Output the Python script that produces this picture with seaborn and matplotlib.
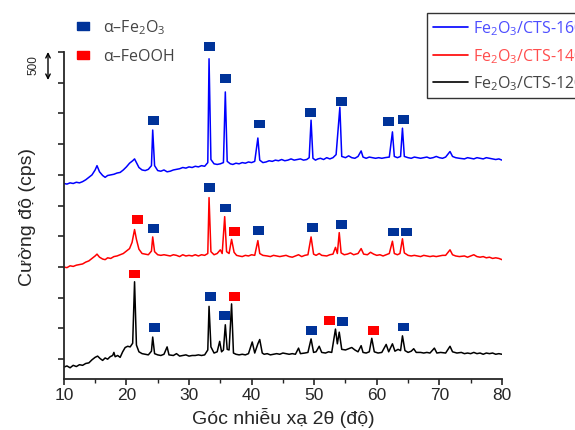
import numpy as np
import pandas as pd
import matplotlib
matplotlib.use("Agg")
import matplotlib.pyplot as plt
from matplotlib.lines import Line2D
from matplotlib.ticker import MultipleLocator, NullFormatter
import seaborn as sns

tt_120 = [10.0, 10.5, 11.0, 11.5, 12.0, 12.5, 13.0, 13.5, 14.0, 14.5, 15.0, 15.4, 15.8, 16.2, 16.6, 17.0,
          17.4, 17.8, 18.0, 18.2, 18.6, 19.0, 19.4, 19.8, 20.2, 20.6, 21.0, 21.3, 21.6, 22.0, 22.5, 23.0,
          23.5, 24.0, 24.2, 24.5, 25.0, 25.5, 26.0, 26.5, 26.8, 27.5, 28.0, 28.5, 29.0, 29.5, 30.0, 30.5,
          31.0, 31.5, 32.0, 32.5, 33.0, 33.2, 33.5, 34.0, 34.5, 34.9, 35.2, 35.5, 35.8, 36.1, 36.4, 36.8,
          37.1, 37.5, 38.0, 38.5, 39.0, 39.5, 40.1, 40.5, 41.0, 41.3, 41.7, 42.0, 42.5, 43.0, 43.5, 44.0,
          44.5, 45.0, 45.5, 46.0, 46.5, 47.0, 47.5, 47.8, 48.5, 49.0, 49.5, 49.9, 50.3, 50.8, 51.2, 51.8,
          52.3, 52.8, 53.4, 53.7, 54.0, 54.4, 55.0, 55.5, 56.0, 56.5, 57.0, 57.5, 57.8, 58.3, 58.8, 59.2,
          59.6, 60.2, 60.8, 61.5, 61.9, 62.5, 62.9, 63.4, 63.8, 64.1, 64.5, 65.0, 65.5, 65.9, 66.3, 67.0,
          67.5, 68.0, 68.5, 69.2, 69.6, 70.2, 71.0, 71.7, 72.1, 72.8, 73.5, 74.0, 74.5, 75.0, 75.5, 76.0,
          76.5, 77.0, 77.5, 78.0, 78.5, 79.0, 79.5, 80.0]
cps_120 = [-130, -110, -140, -100, -120, -90, -100, -70, -60, -10, 30, 50, 10, -20, 20, 0,
           40, 60, 110, 40, 60, 30, 120, 190, 210, 200, 260, 1260, 230, 120, 90, 80,
           70, 130, 360, 90, 70, 60, 80, 200, 70, 60, 90, 50, 60, 70, 50, 60,
           60, 70, 60, 70, 150, 860, 200, 100, 120, 290, 120, 150, 560, 160, 150, 900,
           100, 80, 70, 80, 70, 90, 280, 100, 250, 320, 100, 80, 90, 70, 80, 90,
           80, 100, 90, 80, 90, 80, 180, 90, 100, 110, 330, 110, 120, 210, 110, 100,
           120, 110, 490, 250, 440, 160, 150, 170, 190, 150, 120, 220, 110, 100, 120, 340,
           120, 100, 110, 240, 120, 250, 130, 160, 140, 380, 140, 110, 130, 170, 110, 110,
           100, 110, 100, 180, 100, 110, 100, 210, 120, 100, 110, 90, 100, 90, 110, 90,
           100, 80, 100, 90, 100, 80, 90, 80]

tt_140 = [10.0, 10.5, 11.0, 11.5, 12.0, 12.5, 13.0, 13.5, 14.0, 14.5, 15.0, 15.3, 15.7, 16.2, 16.6, 17.0,
          17.5, 18.0, 18.5, 19.0, 19.5, 20.0, 20.5, 20.9, 21.3, 21.6, 22.0, 22.5, 23.0, 23.5, 24.0, 24.2,
          24.5, 25.0, 25.5, 26.0, 26.5, 27.0, 27.5, 28.0, 28.5, 29.0, 29.5, 30.0, 30.5, 31.0, 31.5, 32.0,
          32.5, 33.0, 33.2, 33.5, 34.0, 34.5, 35.0, 35.3, 35.7, 36.0, 36.4, 36.8, 37.2, 37.6, 38.0, 38.5,
          39.0, 39.5, 40.0, 40.5, 41.0, 41.3, 41.8, 42.5, 43.0, 43.5, 44.0, 44.5, 45.0, 45.5, 46.0, 46.5,
          47.0, 47.5, 48.0, 48.5, 49.0, 49.5, 49.9, 50.3, 50.8, 51.2, 52.0, 52.5, 53.0, 53.4, 53.7, 54.0,
          54.3, 54.8, 55.3, 55.8, 56.3, 57.0, 57.5, 57.9, 58.5, 59.0, 59.5, 60.0, 60.5, 61.0, 61.5, 62.0,
          62.5, 62.8, 63.3, 63.7, 64.1, 64.4, 65.0, 65.5, 66.0, 66.5, 67.0, 67.5, 68.0, 68.5, 69.0, 69.5,
          70.0, 70.5, 71.0, 71.7, 72.1, 72.6, 73.2, 74.0, 74.5, 75.0, 75.5, 76.0, 76.5, 77.0, 77.5, 78.0,
          78.5, 79.0, 79.5, 80.0]
cps_140 = [1500, 1490, 1520, 1510, 1530, 1540, 1550, 1580, 1600, 1640, 1680, 1710, 1660, 1630, 1620, 1650,
           1640, 1670, 1680, 1700, 1720, 1760, 1800, 1900, 2110, 1950, 1790, 1720, 1710, 1700, 1760, 1990,
           1750, 1700, 1690, 1700, 1690, 1680, 1700, 1690, 1670, 1700, 1680, 1690, 1680, 1700, 1680, 1700,
           1690, 1720, 2630, 1750, 1700, 1720, 1780, 1720, 2320, 1750, 1720, 1950, 1740, 1690, 1680, 1670,
           1690, 1680, 1700, 1690, 1930, 1720, 1690, 1680, 1670, 1690, 1680, 1670, 1680, 1690, 1670, 1660,
           1680, 1700, 1670, 1690, 1700, 1990, 1710, 1690, 1720, 1690, 1680, 1700, 1710, 1820, 1720, 2060,
           1730, 1700, 1710, 1730, 1700, 1720, 1800, 1710, 1700, 1740, 1710, 1690, 1700, 1680, 1700, 1720,
           1920, 1720, 1700, 1720, 1960, 1730, 1690, 1680, 1690, 1680, 1670, 1690, 1680, 1670, 1680, 1670,
           1680, 1690, 1690, 1780, 1700, 1680, 1670, 1680, 1660, 1680, 1700, 1670, 1660, 1670, 1650, 1660,
           1640, 1650, 1640, 1620]

tt_160 = [10.0, 10.5, 11.0, 11.5, 12.0, 12.5, 13.0, 13.5, 14.0, 14.5, 15.0, 15.3, 15.7, 16.2, 16.6, 17.0,
          17.5, 18.0, 18.5, 19.0, 19.5, 20.0, 20.5, 21.0, 21.3, 21.6, 22.0, 22.5, 23.0, 23.5, 24.0, 24.2,
          24.5, 25.0, 25.5, 26.0, 26.5, 27.0, 27.5, 28.0, 28.5, 29.0, 29.5, 30.0, 30.5, 31.0, 31.5, 32.0,
          32.5, 33.0, 33.2, 33.5, 34.0, 34.5, 35.0, 35.5, 35.8, 36.1, 36.6, 37.0, 37.5, 38.0, 38.5, 39.0,
          39.5, 40.0, 40.5, 41.0, 41.3, 41.8, 42.3, 42.8, 43.3, 43.8, 44.3, 44.8, 45.3, 45.8, 46.3, 46.8,
          47.3, 47.8, 48.3, 48.8, 49.2, 49.5, 49.8, 50.2, 50.6, 51.0, 51.5, 52.0, 52.5, 53.0, 53.5, 54.1,
          54.4, 55.0, 55.5, 56.0, 56.5, 57.0, 57.5, 57.8, 58.3, 58.8, 59.3, 59.8, 60.3, 60.8, 61.3, 62.0,
          62.5, 62.8, 63.3, 63.8, 64.1, 64.4, 65.0, 65.5, 66.0, 66.5, 67.0, 67.5, 68.0, 68.5, 69.0, 69.5,
          70.0, 70.5, 71.0, 71.7, 72.1, 72.6, 73.2, 74.0, 74.5, 75.0, 75.5, 76.0, 76.5, 77.0, 77.5, 78.0,
          78.5, 79.0, 79.5, 80.0]
cps_160 = [2860, 2850, 2870, 2860, 2880, 2870, 2890, 2920, 2960, 3000, 3080, 3150, 3050, 2990, 2960, 2990,
           3000, 3010, 3030, 3040, 3080, 3130, 3190, 3230, 3260, 3200, 3120, 3080, 3070, 3090, 3150, 3730,
           3150, 3070, 3060, 3080, 3050, 3060, 3080, 3090, 3100, 3120, 3110, 3130, 3120, 3140, 3130, 3150,
           3140, 3200, 4890, 3250, 3180, 3170, 3180, 3200, 4350, 3220, 3180, 3170, 3190, 3180, 3200, 3190,
           3210, 3200, 3220, 3600, 3240, 3200, 3210, 3230, 3220, 3240, 3230, 3250, 3230, 3240, 3260, 3240,
           3250, 3260, 3240, 3250, 3280, 3890, 3270, 3240, 3260, 3270, 3250, 3280, 3260, 3280, 3330, 4100,
           3300, 3280, 3310, 3280, 3270, 3300, 3390, 3290, 3270, 3290, 3280, 3270, 3280, 3270, 3280, 3290,
           3700, 3300, 3280, 3300, 3760, 3300, 3280, 3270, 3290, 3280, 3270, 3280, 3290, 3270, 3280, 3300,
           3280, 3270, 3290, 3380, 3300, 3280, 3270, 3260, 3280, 3270, 3260, 3280, 3270, 3260, 3280, 3270,
           3260, 3250, 3260, 3240]

# phase markers (2-theta, height in cps)
hem_tt = [24.4, 33.2, 35.9, 41.2, 49.4, 54.4, 61.9, 64.2,
          24.4, 33.2, 35.8, 41.1, 49.8, 54.3, 62.6, 64.8,
          24.5, 33.5, 35.7, 49.6, 54.5, 64.3]
hem_cps = [3880, 5090, 4570, 3830, 4020, 4200, 3870, 3900,
           2130, 2790, 2460, 2090, 2140, 2190, 2070, 2070,
           510, 1015, 705, 470, 610, 525]
goe_tt = [21.7, 37.3, 21.3, 37.3, 52.5, 59.4]
goe_cps = [2270, 2080, 1385, 1025, 625, 470]

series_names = ["Fe$_2$O$_3$/CTS-160", "Fe$_2$O$_3$/CTS-140", "Fe$_2$O$_3$/CTS-120"]
line_colors = ["#0000ff", "#ff0000", "#000000"]
text_colors = ["#4d4dff", "#ff4d4d", "#444444"]

sns.set_style("ticks")
plt.rcParams["font.family"] = ["Liberation Sans", "DejaVu Sans"]
plt.rcParams["mathtext.fontset"] = "custom"
plt.rcParams["mathtext.rm"] = "Open Sans"
plt.rcParams["mathtext.it"] = "Open Sans"
plt.rcParams["mathtext.default"] = "rm"

df = pd.concat([
    pd.DataFrame({"tt": tt_160, "cps": cps_160, "sample": series_names[0]}),
    pd.DataFrame({"tt": tt_140, "cps": cps_140, "sample": series_names[1]}),
    pd.DataFrame({"tt": tt_120, "cps": cps_120, "sample": series_names[2]}),
])

fig = plt.figure(figsize=(5.75, 4.31), dpi=100)
ax = fig.add_axes([0.111, 0.118, 0.762, 0.759])

sns.lineplot(data=df, x="tt", y="cps", hue="sample", palette=dict(zip(series_names, line_colors)),
             hue_order=series_names, lw=1.1, sort=False, estimator=None, ax=ax, legend=False)

rect = [(-1, -0.8), (1, -0.8), (1, 0.8), (-1, 0.8), (-1, -0.8)]
sns.scatterplot(x=hem_tt, y=hem_cps, marker=rect, s=62, color="#003399", edgecolor="none",
                ax=ax, clip_on=False, zorder=5)
sns.scatterplot(x=goe_tt, y=goe_cps, marker=rect, s=62, color="#ff0000", edgecolor="none",
                ax=ax, clip_on=False, zorder=5)

ax.set_xlim(10, 80)
ax.set_ylim(-325, 5000)
ax.xaxis.set_major_locator(MultipleLocator(10))
ax.xaxis.set_minor_locator(MultipleLocator(5))
ax.yaxis.set_major_locator(MultipleLocator(500))
ax.yaxis.set_major_formatter(NullFormatter())
ax.tick_params(axis="both", which="major", direction="out", length=4, width=1.2, labelsize=12.5, pad=2)
ax.tick_params(axis="x", which="minor", direction="out", length=3, width=1.0)
for sp in ["top", "right"]:
    ax.spines[sp].set_visible(False)
for sp in ["left", "bottom"]:
    ax.spines[sp].set_linewidth(1.3)
ax.set_xlabel("Góc nhiễu xạ 2θ (độ)", fontsize=14, labelpad=3)
ax.set_ylabel("Cường độ (cps)", fontsize=14, labelpad=14)

# phase legend
phase_handles = [
    Line2D([], [], ls="none", marker=rect, ms=8, color="#003399", label="α–Fe$_2$O$_3$"),
    Line2D([], [], ls="none", marker=rect, ms=8, color="#ff0000", label="α–FeOOH"),
]
leg1 = fig.legend(handles=phase_handles, loc="upper left", bbox_to_anchor=(0.105, 0.99),
                  frameon=False, handlelength=1.0, handletextpad=0.75, labelspacing=0.75,
                  prop={"family": "Open Sans", "size": 11.5})
for t in leg1.get_texts():
    t.set_color("#444444")

# sample legend
line_handles = [Line2D([], [], color=c, lw=1.2, label=n) for n, c in zip(series_names, line_colors)]
leg2 = fig.legend(handles=line_handles, loc="upper left", bbox_to_anchor=(0.729, 0.986),
                  frameon=True, fancybox=False, edgecolor="black", borderpad=0.35,
                  handlelength=2.2, handletextpad=0.3, labelspacing=0.55,
                  prop={"family": "Open Sans", "size": 11.5})
leg2.get_frame().set_linewidth(1.0)
for t, c in zip(leg2.get_texts(), text_colors):
    t.set_color(c)

# scale bar
fig.text(33.5 / 575, 1 - 65 / 431, "500", rotation=90, ha="center", va="center", fontsize=8.5)
ax.annotate("", xy=(48 / 575, 1 - 53 / 431), xytext=(48 / 575, 1 - 81 / 431),
            xycoords="figure fraction", textcoords="figure fraction",
            arrowprops=dict(arrowstyle="<->", lw=1.0, color="black", shrinkA=0, shrinkB=0,
                            mutation_scale=8))

fig.savefig("out.png", dpi=100)
